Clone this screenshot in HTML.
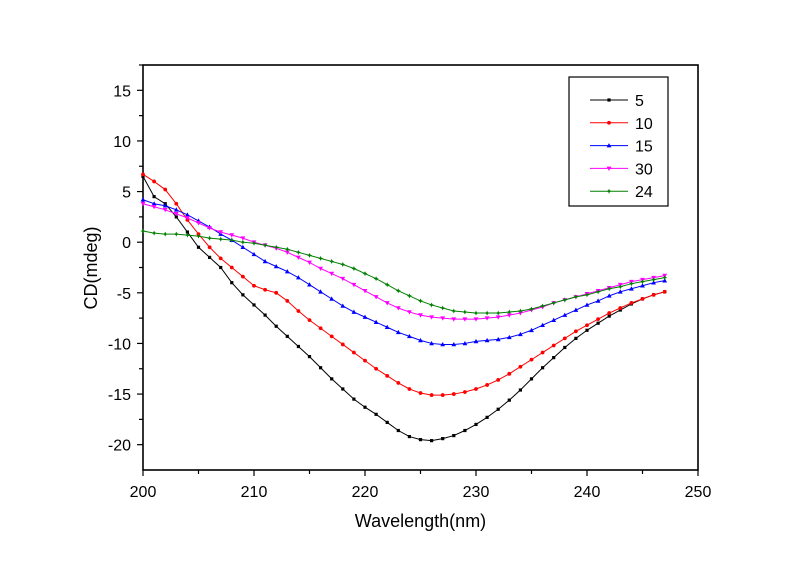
<!DOCTYPE html>
<html><head><meta charset="utf-8"><style>
body{margin:0;background:#fff;}
text{font-family:"Liberation Sans",Arial,sans-serif;fill:#000;}
</style></head><body>
<svg id="chart" width="800" height="565" xmlns="http://www.w3.org/2000/svg">
<rect width="800" height="565" fill="#fff"/>
<g id="plot"></g>
</svg>
<script>
const wavelengths=[200,201,202,203,204,205,206,207,208,209,210,211,212,213,214,215,216,217,218,219,220,221,222,223,224,225,226,227,228,229,230,231,232,233,234,235,236,237,238,239,240,241,242,243,244,245,246,247];
const s5=[6.5,4.5,3.8,2.5,1,-0.5,-1.5,-2.5,-4,-5.2,-6.2,-7.2,-8.3,-9.3,-10.3,-11.3,-12.4,-13.5,-14.5,-15.5,-16.3,-17,-17.8,-18.6,-19.2,-19.5,-19.6,-19.4,-19.1,-18.6,-18,-17.3,-16.5,-15.6,-14.6,-13.5,-12.4,-11.4,-10.4,-9.5,-8.7,-8,-7.3,-6.7,-6.1,-5.6,-5.2,-4.9];
const s10=[6.7,6,5.2,3.8,2.2,0.8,-0.5,-1.6,-2.5,-3.4,-4.3,-4.7,-5,-5.8,-6.8,-7.7,-8.5,-9.3,-10.1,-10.9,-11.7,-12.5,-13.2,-13.9,-14.5,-14.9,-15.1,-15.1,-15,-14.8,-14.5,-14.1,-13.6,-13,-12.3,-11.6,-10.9,-10.2,-9.5,-8.8,-8.2,-7.6,-7,-6.5,-6,-5.6,-5.2,-4.9];
const s15=[4.2,3.8,3.6,3.2,2.7,2.1,1.5,0.8,0.2,-0.5,-1.2,-1.9,-2.4,-2.9,-3.5,-4.2,-4.9,-5.6,-6.3,-6.9,-7.4,-7.9,-8.4,-8.9,-9.3,-9.7,-10,-10.1,-10.1,-10,-9.8,-9.7,-9.6,-9.4,-9.1,-8.7,-8.2,-7.7,-7.2,-6.7,-6.2,-5.8,-5.3,-4.9,-4.6,-4.3,-4,-3.8];
const s30=[3.8,3.5,3.2,2.8,2.4,1.9,1.4,1,0.7,0.4,0,-0.3,-0.6,-1,-1.5,-2,-2.6,-3.1,-3.6,-4.2,-4.8,-5.4,-6,-6.5,-6.9,-7.2,-7.4,-7.5,-7.6,-7.6,-7.6,-7.5,-7.4,-7.2,-7,-6.7,-6.4,-6,-5.7,-5.4,-5.1,-4.8,-4.5,-4.2,-3.9,-3.7,-3.5,-3.3];
const s24=[1.1,0.9,0.8,0.8,0.7,0.6,0.4,0.3,0.2,0,-0.1,-0.3,-0.5,-0.7,-1,-1.3,-1.6,-1.9,-2.2,-2.6,-3.1,-3.6,-4.2,-4.8,-5.3,-5.8,-6.2,-6.5,-6.8,-6.9,-7,-7,-7,-6.9,-6.8,-6.6,-6.3,-6,-5.7,-5.4,-5.2,-4.9,-4.6,-4.4,-4.1,-3.9,-3.7,-3.5];
const seriesNames=["5","10","15","30","24"];
const xTicks=[200,210,220,230,240,250];
const yTicks=[15,10,5,0,-5,-10,-15,-20];

const L=143,R=698,T=65,B=470,XMIN=200,XMAX=250,YMIN=-22.5,YMAX=17.5;
const X=v=>L+(v-XMIN)/(XMAX-XMIN)*(R-L);
const Y=v=>B-(v-YMIN)/(YMAX-YMIN)*(B-T);
const NS="http://www.w3.org/2000/svg";
const g=document.getElementById('plot');
function mk(tag,attrs,parent){const e=document.createElementNS(NS,tag);for(const k in attrs)e.setAttribute(k,attrs[k]);(parent||g).appendChild(e);return e;}

// frame
const frame=mk('rect',{x:L,y:T,width:R-L,height:B-T,fill:'none',stroke:'#000','stroke-width':1.6});



// x ticks
for(let v=XMIN;v<=XMAX;v+=5){
  const major=(v%10===0);
  const t=mk('line',{x1:X(v),x2:X(v),y1:B,y2:B+(major?6:4),stroke:'#000','stroke-width':1.2});
  
  
}
xTicks.forEach(v=>{
  const t=mk('text',{x:X(v),y:B+27,'text-anchor':'middle','font-size':16});
  t.textContent=v;
  
  
});
// y ticks
for(let v=-20;v<=17.5;v+=2.5){
  const major=(v%5===0);
  const t=mk('line',{x1:L,x2:L-(major?6:4),y1:Y(v),y2:Y(v),stroke:'#000','stroke-width':1.2});
  
  
}
yTicks.forEach(v=>{
  const t=mk('text',{x:L-12,y:Y(v)+6,'text-anchor':'end','font-size':16});
  t.textContent=v;
  
  
});
const xt=mk('text',{x:(L+R)/2,y:527,'text-anchor':'middle','font-size':18});
xt.textContent='Wavelength(nm)';


const yt=mk('text',{x:0,y:0,'text-anchor':'middle','font-size':18,transform:'translate(97,268) rotate(-90)'});
yt.textContent='CD(mdeg)';



const allSeries=[s5,s10,s15,s30,s24];
const colors=['#000000','#ff0000','#0000ff','#ff00ff','#008000'];
const shapes=['sq','circ','tri','tridown','star'];
function marker(parent,x,y,shape,c){
  let m;
  if(shape==='sq')m=mk('rect',{x:x-1.6,y:y-1.6,width:3.2,height:3.2,fill:c},parent);
  else if(shape==='circ')m=mk('circle',{cx:x,cy:y,r:1.9,fill:c},parent);
  else if(shape==='tri')m=mk('polygon',{points:`${x},${y-2.5} ${x-2.4},${y+1.8} ${x+2.4},${y+1.8}`,fill:c},parent);
  else if(shape==='tridown')m=mk('polygon',{points:`${x},${y+2.5} ${x-2.4},${y-1.8} ${x+2.4},${y-1.8}`,fill:c},parent);
  else m=mk('polygon',{points:`${x},${y-2.5} ${x+0.8},${y-0.8} ${x+2.5},${y} ${x+0.8},${y+0.8} ${x},${y+2.5} ${x-0.8},${y+0.8} ${x-2.5},${y} ${x-0.8},${y-0.8}`,fill:c},parent);
  
  
}
// draw series (24 drawn first so others overlay similarly)
allSeries.forEach((s,i)=>{
  const sg=mk('g',{});
  
  
  const pts=s.map((v,j)=>X(wavelengths[j]).toFixed(2)+','+Y(v).toFixed(2)).join(' ');
  const pl=mk('polyline',{points:pts,fill:'none',stroke:colors[i],'stroke-width':1},sg);
  
  
  s.forEach((v,j)=>marker(sg,X(wavelengths[j]),Y(v),shapes[i],colors[i]));
});

// legend
const lg=mk('g',{});


const lb=mk('rect',{x:569,y:77,width:99,height:129,fill:'#fff',stroke:'#000','stroke-width':1.2},lg);


seriesNames.forEach((n,i)=>{
  const y=100+i*22.8;
  const eg=mk('g',{},lg);
  
  
  mk('line',{x1:590,x2:628,y1:y,y2:y,stroke:colors[i],'stroke-width':1},eg);
  marker(eg,609,y,shapes[i],colors[i]);
  const t=mk('text',{x:635,y:y+6,'font-size':16},eg);
  t.textContent=n;
  
  
});
</script>
</body></html>
